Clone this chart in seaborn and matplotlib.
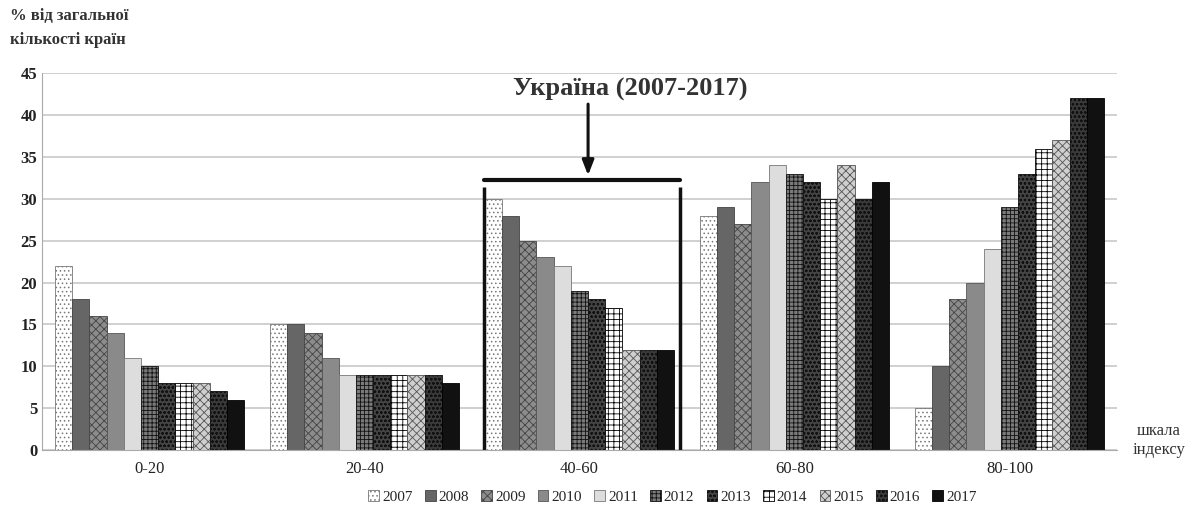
import matplotlib
matplotlib.use("Agg")
import matplotlib.pyplot as plt
import seaborn as sns
import pandas as pd
from matplotlib.patches import Patch

categories = ["0-20", "20-40", "40-60", "60-80", "80-100"]
years = ["2007", "2008", "2009", "2010", "2011", "2012", "2013", "2014", "2015", "2016", "2017"]
v_0_20 = [22, 18, 16, 14, 11, 10, 8, 8, 8, 7, 6]
v_20_40 = [15, 15, 14, 11, 9, 9, 9, 9, 9, 9, 8]
v_40_60 = [30, 28, 25, 23, 22, 19, 18, 17, 12, 12, 12]
v_60_80 = [28, 29, 27, 32, 34, 33, 32, 30, 34, 30, 32]
v_80_100 = [5, 10, 18, 20, 24, 29, 33, 36, 37, 42, 42]
yticks = [0, 5, 10, 15, 20, 25, 30, 35, 40, 45]

rows = []
for cat, vals in zip(categories, [v_0_20, v_20_40, v_40_60, v_60_80, v_80_100]):
    for y, v in zip(years, vals):
        rows.append({"cat": cat, "year": y, "value": v})
df = pd.DataFrame(rows)

sns.set_style("white")
plt.rcParams["font.family"] = ["Liberation Serif", "DejaVu Serif"]
plt.rcParams["hatch.linewidth"] = 0.6

styles = [
    ("#ffffff", "#777777", "...."),
    ("#666666", "#444444", None),
    ("#8c8c8c", "#444444", "xxxx"),
    ("#8a8a8a", "#555555", None),
    ("#dddddd", "#777777", None),
    ("#7a7a7a", "#111111", "++++"),
    ("#444444", "#111111", "oooo"),
    ("#ffffff", "#000000", "+++"),
    ("#cfcfcf", "#555555", "xxxx"),
    ("#3a3a3a", "#111111", "oooo"),
    ("#111111", "#000000", None),
]

fig = plt.figure(figsize=(12.01, 5.15), dpi=100)
ax = fig.add_axes([0.035, 0.126, 0.895, 0.732])

sns.barplot(data=df, x="cat", y="value", hue="year", ax=ax, width=0.88,
            palette=["#888888"] * len(years), saturation=1, legend=False)

handles = []
for cont, (fc, ec, h) in zip(ax.containers, styles):
    for p in cont.patches:
        p.set_facecolor(fc)
        p.set_edgecolor(ec)
        p.set_linewidth(0.6)
        if h:
            p.set_hatch(h)
    handles.append(Patch(facecolor=fc, edgecolor=ec, hatch=h, linewidth=0.6))

ax.set_ylim(0, 45)
ax.set_xlim(-0.5, 4.5)
ax.set_yticks(yticks)
ax.set_xticks([0.5, 1.5, 2.5, 3.5], minor=True)
ax.yaxis.grid(True, color="#c8c8c8", linewidth=1.2)
ax.set_axisbelow(True)
for s in ["top", "right"]:
    ax.spines[s].set_visible(False)
ax.spines["left"].set_color("#aaaaaa")
ax.spines["bottom"].set_color("#aaaaaa")
ax.set_xlabel("")
ax.set_ylabel("")
ax.tick_params(axis="both", labelsize=12, colors="#222222", length=0)
ax.tick_params(axis="x", which="minor", length=5, color="#aaaaaa", direction="out")
ax.tick_params(axis="x", pad=8)
for lbl in ax.get_yticklabels():
    lbl.set_fontweight("bold")

# bracket and annotation for Ukraine
ax.plot([1.556, 1.556], [0, 31.4], color="#111111", lw=2.5, solid_capstyle="butt", clip_on=False)
ax.plot([2.467, 2.467], [0, 31.4], color="#111111", lw=2.5, solid_capstyle="butt", clip_on=False)
ax.plot([1.556, 2.467], [32.2, 32.2], color="#111111", lw=3, clip_on=False)
ax.annotate("", xy=(2.04, 32.8), xytext=(2.04, 41.3),
            arrowprops=dict(arrowstyle="-|>,head_width=0.35,head_length=0.9",
                            color="#111111", lw=2.2, shrinkA=0, shrinkB=0),
            annotation_clip=False)
ax.text(2.235, 43.1, "Україна (2007-2017)", ha="center", va="center",
        fontsize=19, fontweight="bold", color="#333333")

fig.text(0.008, 0.985, "% від загальної\nкількості країн", ha="left", va="top",
         fontsize=12, fontweight="bold", color="#333333", linespacing=1.7)
fig.text(0.965, 0.145, "шкала\nіндексу", ha="center", va="center",
         fontsize=12, color="#333333", linespacing=1.2)

fig.legend(handles, years, loc="center", bbox_to_anchor=(0.56, 0.035), ncol=11,
           frameon=False, fontsize=11, handlelength=0.7, handleheight=0.7,
           handletextpad=0.2, columnspacing=0.8)

fig.savefig("out.png", dpi=100, facecolor="white")
